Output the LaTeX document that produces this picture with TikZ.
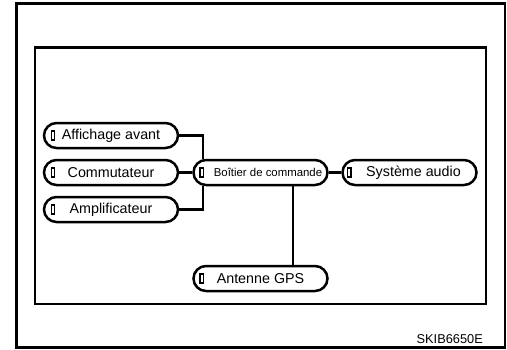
\documentclass[tikz,border=0pt]{standalone}
\usepackage{fontspec}
\setmainfont{Liberation Sans}
\begin{document}
\begin{tikzpicture}[x=1pt,y=-1pt,
  unit/.style={draw,line width=2.5pt,rounded corners=12.5pt,minimum width=134pt,minimum height=25pt,inner sep=0pt,font=\fontsize{14.3}{16}\selectfont},
  wire/.style={line width=2.4pt},
  markbox/.style={line width=1.4pt}]
\useasboundingbox (0,0) rectangle (507,349);
\draw[line width=2.6pt] (16.5,3.5) rectangle (505,347.5);
\draw[line width=2.3pt] (35.3,47.5) rectangle (486,304);
\node[unit] (aff) at (111,135.5) {Affichage avant};
\node[unit] (com) at (111,172.5) {Commutateur};
\node[unit] (amp) at (111,209.5) {Amplificateur};
\node[unit,font=\fontsize{11.4}{13}\selectfont] (boi) at (260.5,172.5) {\hspace*{15pt}Boîtier de commande};
\node[unit] (sys) at (409.5,172.5) {\hspace*{8pt}Système audio};
\node[unit] (ant) at (260.5,278.5) {Antenne GPS};
\foreach \n/\d in {aff/10.3,com/10.3,amp/10.3,boi/9.4,sys/8,ant/9.4}{
  \draw[markbox] ([xshift=\d pt]\n.west) ++(-1.7,-4.5) rectangle ++(3.4,9);
}
\draw[wire] (aff.east) -| ([xshift=11pt]boi.north west);
\draw[wire] (amp.east) -| ([xshift=11pt]boi.south west);
\draw[wire] (com.east) -- (boi.west);
\draw[wire] (boi.east) -- (sys.west);
\draw[wire] ([xshift=32.5pt]boi.south) -- ([xshift=32.5pt]ant.north);
\node[anchor=base east,inner sep=0pt,font=\fontsize{12.8}{14}\selectfont] (code) at (483,343) {SKIB6650E};
\end{tikzpicture}
\end{document}
